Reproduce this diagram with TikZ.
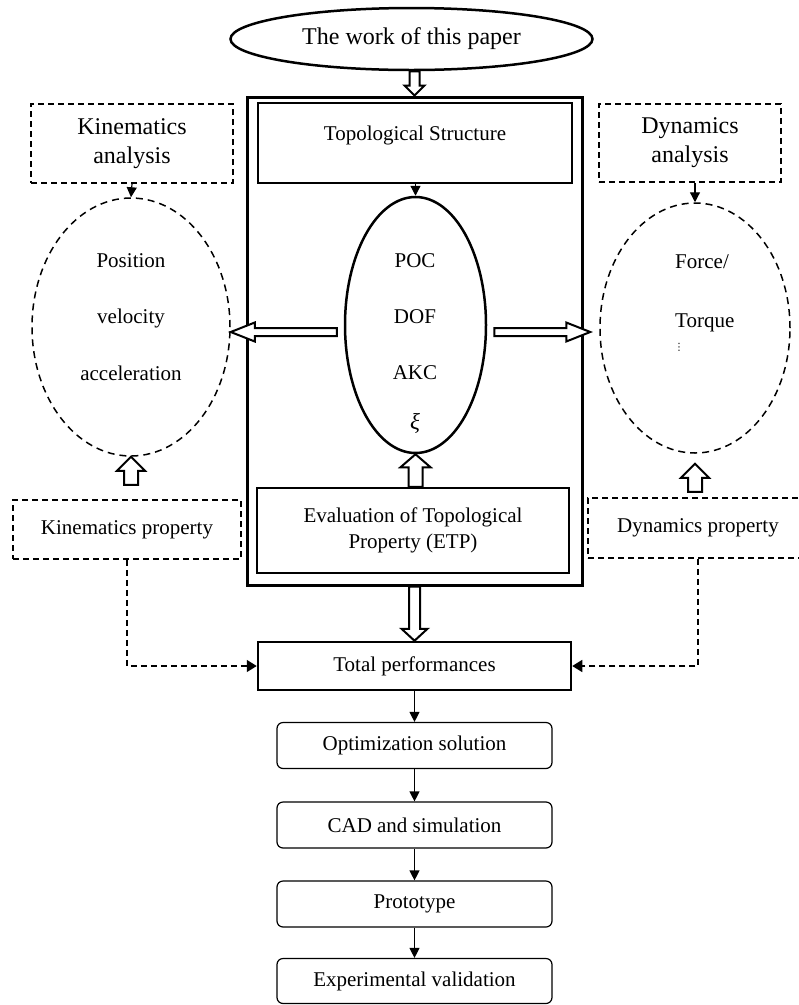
\documentclass[tikz,border=0pt]{standalone}
\usepackage{fontspec}
\setmainfont{Liberation Serif}
\newfontfamily\dejavu{DejaVu Sans}
\usetikzlibrary{shapes.geometric,arrows.meta,calc}

\tikzset{
  every node/.style={font=\fontsize{21}{26}\selectfont},
  bigtext/.style={font=\fontsize{24}{29}\selectfont},
  tx/.style={inner sep=0pt, text height=14pt, text depth=4pt},
  solidbox/.style={draw, line width=2.5pt, inner sep=0pt, align=center},
  dline/.style={line width=1.5pt, dash pattern=on 6pt off 4pt},
  dbox/.style={draw, dline, inner sep=0pt, align=center},
  dell/.style={draw, ellipse, line width=1.5pt, dash pattern=on 7pt off 5pt, inner sep=0pt},
  rbox/.style={draw, line width=1.2pt, rounded corners=6pt, inner sep=0pt, align=center,
               minimum width=275pt, minimum height=46pt},
  hollow/.style={draw, line width=2pt, fill=white, line join=miter},
  tip/.style={-{Triangle[length=10pt,width=10pt]}, line width=1.2pt},
  dtip/.style={dline, -{Triangle[length=10pt,width=12pt]}},
}

% hollow block arrow: start, end, half shaft width, half head width, head length
\newcommand\harrow[5]{%
  \coordinate (hA) at #1;
  \coordinate (hB) at #2;
  \coordinate (hH) at ($(hB)!#5!(hA)$);
  \draw[hollow] ($(hA)!#3!90:(hB)$) -- ($(hH)!#3!-90:(hA)$) -- ($(hH)!#4!-90:(hA)$)
    -- (hB) -- ($(hH)!#4!90:(hA)$) -- ($(hH)!#3!90:(hA)$) -- ($(hA)!#3!-90:(hB)$) -- cycle;}

\begin{document}
\begin{tikzpicture}[x=1pt, y=-1pt]
\useasboundingbox (0,0) rectangle (799,1005);

% title
\node[draw, ellipse, line width=2.5pt, minimum width=362pt, minimum height=62pt, inner sep=0pt, bigtext]
  (title) at (411.5,39) {The work of this paper};

% outer frame
\node[draw, line width=3pt, minimum width=335pt, minimum height=488pt, inner sep=0pt] (outer) at (414.5,341) {};

% topological structure
\node[solidbox, minimum width=314pt, text height=37pt, text depth=43pt] (ts) at (415,143) {Topological Structure};

% core ellipse
\node[draw, ellipse, line width=2.5pt, minimum width=141pt, minimum height=256pt, inner sep=0pt] (core) at (415.5,325) {};
\node[tx] (poc) at (415,262) {POC};
\node[tx] (dof) at (415,318) {DOF};
\node[tx] (akc) at (415,374) {AKC};
\node[tx] (xi) at (415,424) {\itshape\fontsize{23}{26}\selectfont ξ};

% ETP
\node[solidbox, minimum width=312pt, minimum height=85pt] (etp) at (413,530.5)
  {Evaluation of Topological\\Property (ETP)};

% kinematics side
\node[dbox, bigtext, minimum width=202pt, minimum height=79pt] (ka) at (132,143.5) {Kinematics\\analysis};
\node[dell, minimum width=198pt, minimum height=258pt] (kel) at (131,327) {};
\node[tx] (pos) at (131,262) {Position};
\node[tx] (vel) at (131,318) {velocity};
\node[tx] (acc) at (131,375) {acceleration};
\node[dbox, minimum width=228pt, minimum height=59pt] (kp) at (127,529.5) {Kinematics property};

% dynamics side
\node[dbox, bigtext, minimum width=182pt, minimum height=78pt] (da) at (690,143) {Dynamics\\analysis};
\node[dell, minimum width=190pt, minimum height=250pt] (del) at (695,328) {};
\node[tx, anchor=west] (force) at (675,263) {Force/};
\node[tx, anchor=west] (torque) at (675,322) {Torque};
\node[inner sep=0pt, anchor=west, font=\dejavu\fontsize{10}{12}\selectfont] (dots) at (674,347) {⋮};
\node[dbox, minimum width=220pt, minimum height=60pt] (dp) at (698,528) {Dynamics property};

% bottom chain
\node[solidbox, minimum width=313pt, minimum height=48pt] (tp) at (414.5,666) {Total performances};
\node[rbox] (opt) at (414.5,745.5) {Optimization solution};
\node[rbox] (cad) at (414.5,825) {CAD and simulation};
\node[rbox] (proto) at (414.5,904) {Prototype};
\node[rbox, minimum height=45pt] (exp) at (414.5,981) {Experimental validation};

% solid arrows
\draw[tip] (ts.south -| core.north) -- (core.north);
\draw[tip] (ka.south) -- (kel.north);
\draw[tip] (del.north |- da.south) -- (del.north);
\draw[tip] (tp.south) -- (opt.north);
\draw[tip] (opt.south) -- (cad.north);
\draw[tip] (cad.south) -- (proto.north);
\draw[tip] (proto.south) -- (exp.north);

% dashed connectors
\draw[dtip] (kp.south) |- (tp.west);
\draw[dtip] (dp.south) |- (tp.east);

% hollow block arrows
\harrow{(outer.north |- title.south)}{(outer.north)}{5pt}{10pt}{10pt}
\coordinate (la) at ($(core.west)+(-7,7)$);
\harrow{(la)}{(kel.east |- la)}{4pt}{9.5pt}{24pt}
\coordinate (ra) at ($(core.east)+(7,7)$);
\harrow{(ra)}{($(del.west |- ra)+(-9,0)$)}{4pt}{9.5pt}{24pt}
\harrow{(core.south |- etp.north)}{(core.south)}{7pt}{15pt}{13pt}
\harrow{(outer.south)}{(tp.north)}{5.5pt}{13pt}{12pt}
\harrow{($(kel.south)+(0,28)$)}{(kel.south)}{7pt}{14pt}{14pt}
\harrow{($(del.south)+(0,38)$)}{($(del.south)+(0,10)$)}{7pt}{14pt}{14pt}
\end{tikzpicture}
\end{document}
